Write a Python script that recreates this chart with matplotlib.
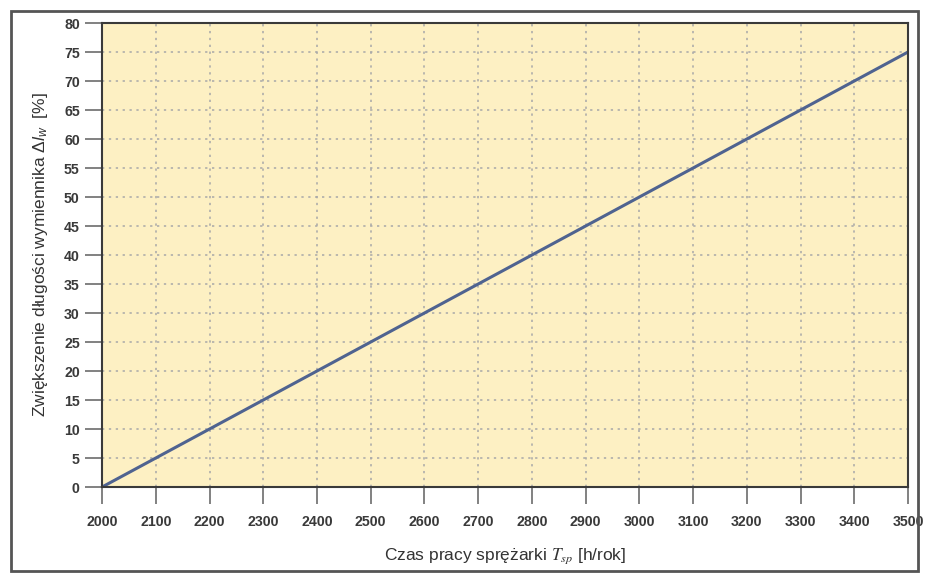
import numpy as np
import matplotlib.pyplot as plt
from matplotlib.patches import Rectangle

# dane
czas = [2000, 2500, 3000, 3500]
przyrost = [0, 25, 50, 75]
x_ticks = [2000, 2100, 2200, 2300, 2400, 2500, 2600, 2700, 2800, 2900,
           3000, 3100, 3200, 3300, 3400, 3500]
y_ticks = list(range(0, 85, 5))

plt.rcParams['font.family'] = ['Liberation Sans', 'DejaVu Sans']
plt.rcParams['mathtext.fontset'] = 'custom'
plt.rcParams['mathtext.rm'] = 'Liberation Sans'
plt.rcParams['mathtext.it'] = 'Liberation Sans:italic'

fig = plt.figure(figsize=(9.26, 5.78), dpi=100)
ax = fig.add_axes([0.1102, 0.1574, 0.8704, 0.8028])
ax.set_facecolor('#fdf0c3')

ax.plot(czas, przyrost, color='#4f6390', lw=2.2, solid_capstyle='round')

ax.set_xlim(2000, 3500)
ax.set_ylim(0, 80)
ax.set_xticks(x_ticks)
ax.set_yticks(y_ticks)
ax.grid(True, color='#a8a8a8', linestyle=(0, (1.5, 3)), lw=1.1)
ax.set_axisbelow(True)

for s in ax.spines.values():
    s.set_color('#3a3a3a')
    s.set_linewidth(1.5)

ax.tick_params(axis='both', direction='out', length=12, width=1.3, color='#777777',
               labelsize=10.2, labelcolor='#3a3a3a', pad=4)
ax.tick_params(axis='x', pad=8)
for lab in ax.get_xticklabels() + ax.get_yticklabels():
    lab.set_fontweight('bold')

xl = ax.set_xlabel(r'Czas pracy sprężarki $T_{sp}$ [h/rok]', fontsize=12.5, color='#333333', labelpad=13)
xl.set_math_fontfamily('stix')
ax.set_ylabel(r'Zwiększenie długości wymiennika $\Delta l_w$  [%]', fontsize=12.5, color='#333333', labelpad=10)

fig.patches.append(Rectangle((11 / 926, 7 / 578), 907 / 926, 560 / 578, transform=fig.transFigure,
                             fill=False, edgecolor='#555555', lw=2))

fig.savefig('out.png', dpi=100)
